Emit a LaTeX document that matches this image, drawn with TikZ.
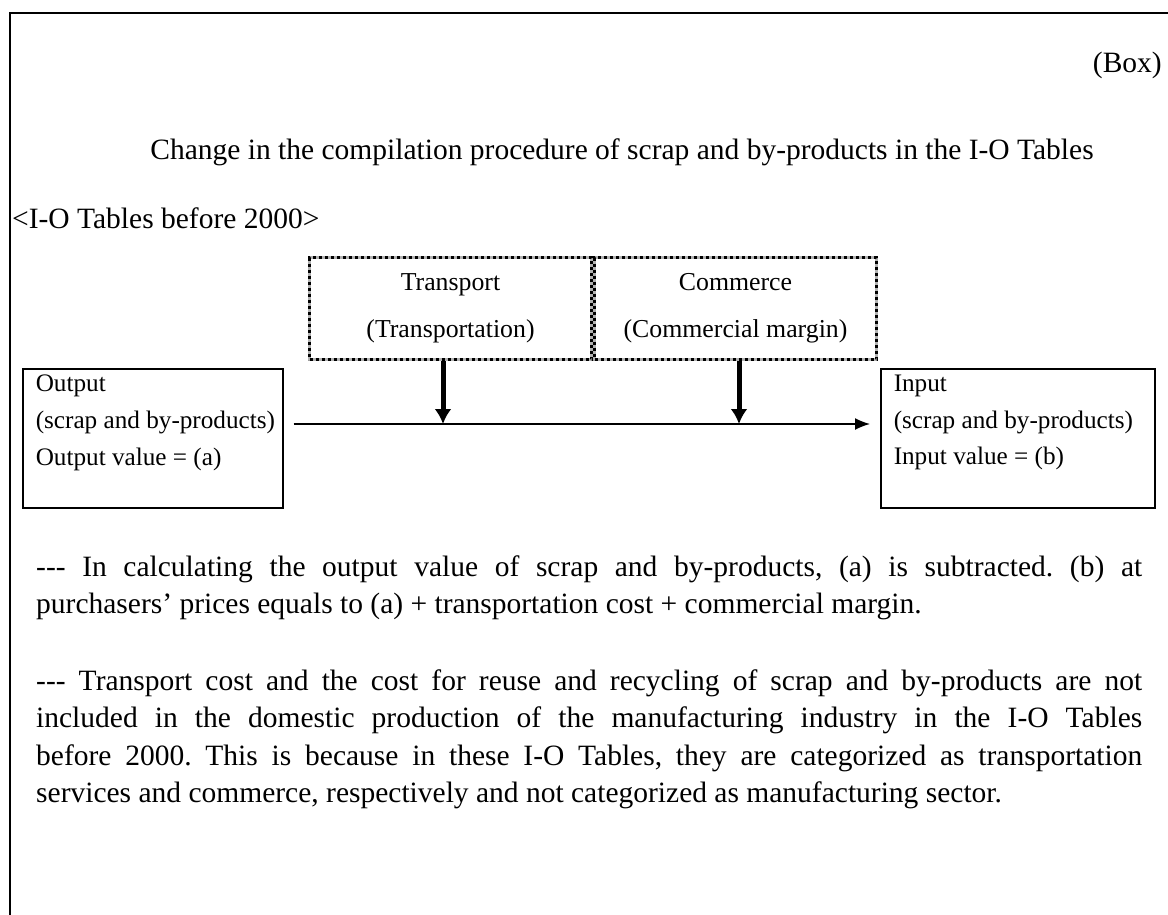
\documentclass[tikz,border=0pt]{standalone}
\usepackage{fontspec}
\setmainfont{Liberation Serif}[Ligatures=TeXOff]
\usetikzlibrary{positioning,arrows.meta}
\frenchspacing

\tikzset{
    frame/.style={line width=2pt},
    plain/.style={inner sep=0pt, font=\fontsize{29.5}{37.5}\selectfont},
    note/.style={plain, text width=1106pt, align=justify},
    dotbox/.style={draw=gray!60, line width=3pt, minimum width=282pt, minimum height=102pt,
        align=center, inner sep=0pt, font=\fontsize{25.8}{47}\selectfont,
        postaction={draw=black, dash pattern=on 3pt off 3pt}},
    valbox/.style={draw, line width=1.5pt, inner xsep=13pt, inner ysep=6pt, anchor=north west,
        font=\fontsize{25.2}{36.8}\selectfont},
    flow/.style={line width=1.5pt, -{Latex[length=15pt,width=12pt]}},
    push/.style={line width=5pt, -{Latex[length=15pt,width=17pt]}}
}

\begin{document}
\begin{tikzpicture}[x=1pt,y=-1pt]
    \useasboundingbox (0,0) rectangle (1168,915);
    \draw[frame] (10,915) -- (10,13) -- (1168,13);

    \node[plain, anchor=east] (boxtag) at (1162,65) {(Box)};
    \node[plain] (heading) at (622,152) {Change in the compilation procedure of scrap and by-products in the I-O Tables};
    \node[plain, anchor=west] (era) at (12,218) {<I-O Tables before 2000>};

    % margins added on the way
    \node[dotbox] (transport) at (450.5,308.5) {Transport\\(Transportation)};
    \node[dotbox, right=0pt of transport] (commerce) {Commerce\\(Commercial margin)};

    % the two ends
    \node[valbox] (output) at (22,368) {\parbox[t][127pt][t]{234pt}{\raggedright Output\\\mbox{(scrap and by-products)}\\Output value = (a)}};
    \node[valbox] (input) at (880,368) {\parbox[t][127pt][t]{248pt}{\raggedright Input\\\mbox{(scrap and by-products)}\\Input value = (b)}};

    \coordinate (flowy) at (0,424);
    \coordinate (tdrop) at (443,424);
    \coordinate (cdrop) at (739,424);
    \draw[flow, shorten <=10pt, shorten >=10pt] (output.east |- flowy) -- (input.west |- flowy);
    \draw[push] (transport.south -| tdrop) -- (tdrop);
    \draw[push] (commerce.south -| cdrop) -- (cdrop);

    % notes below the chart
    \node[note, anchor=base west] (first) at (36,576) {--- In calculating the output value of scrap and by-products, (a) is subtracted. (b) at\linebreak purchasers’ prices equals to (a) + transportation cost + commercial margin.};
    \node[note, anchor=base west] (second) at (36,690) {--- Transport cost and the cost for reuse and recycling of scrap and by-products are not\linebreak included in the domestic production of the manufacturing industry in the I-O Tables\linebreak before 2000. This is because in these I-O Tables, they are categorized as transportation\linebreak services and commerce, respectively and not categorized as manufacturing sector.};
\end{tikzpicture}
\end{document}
